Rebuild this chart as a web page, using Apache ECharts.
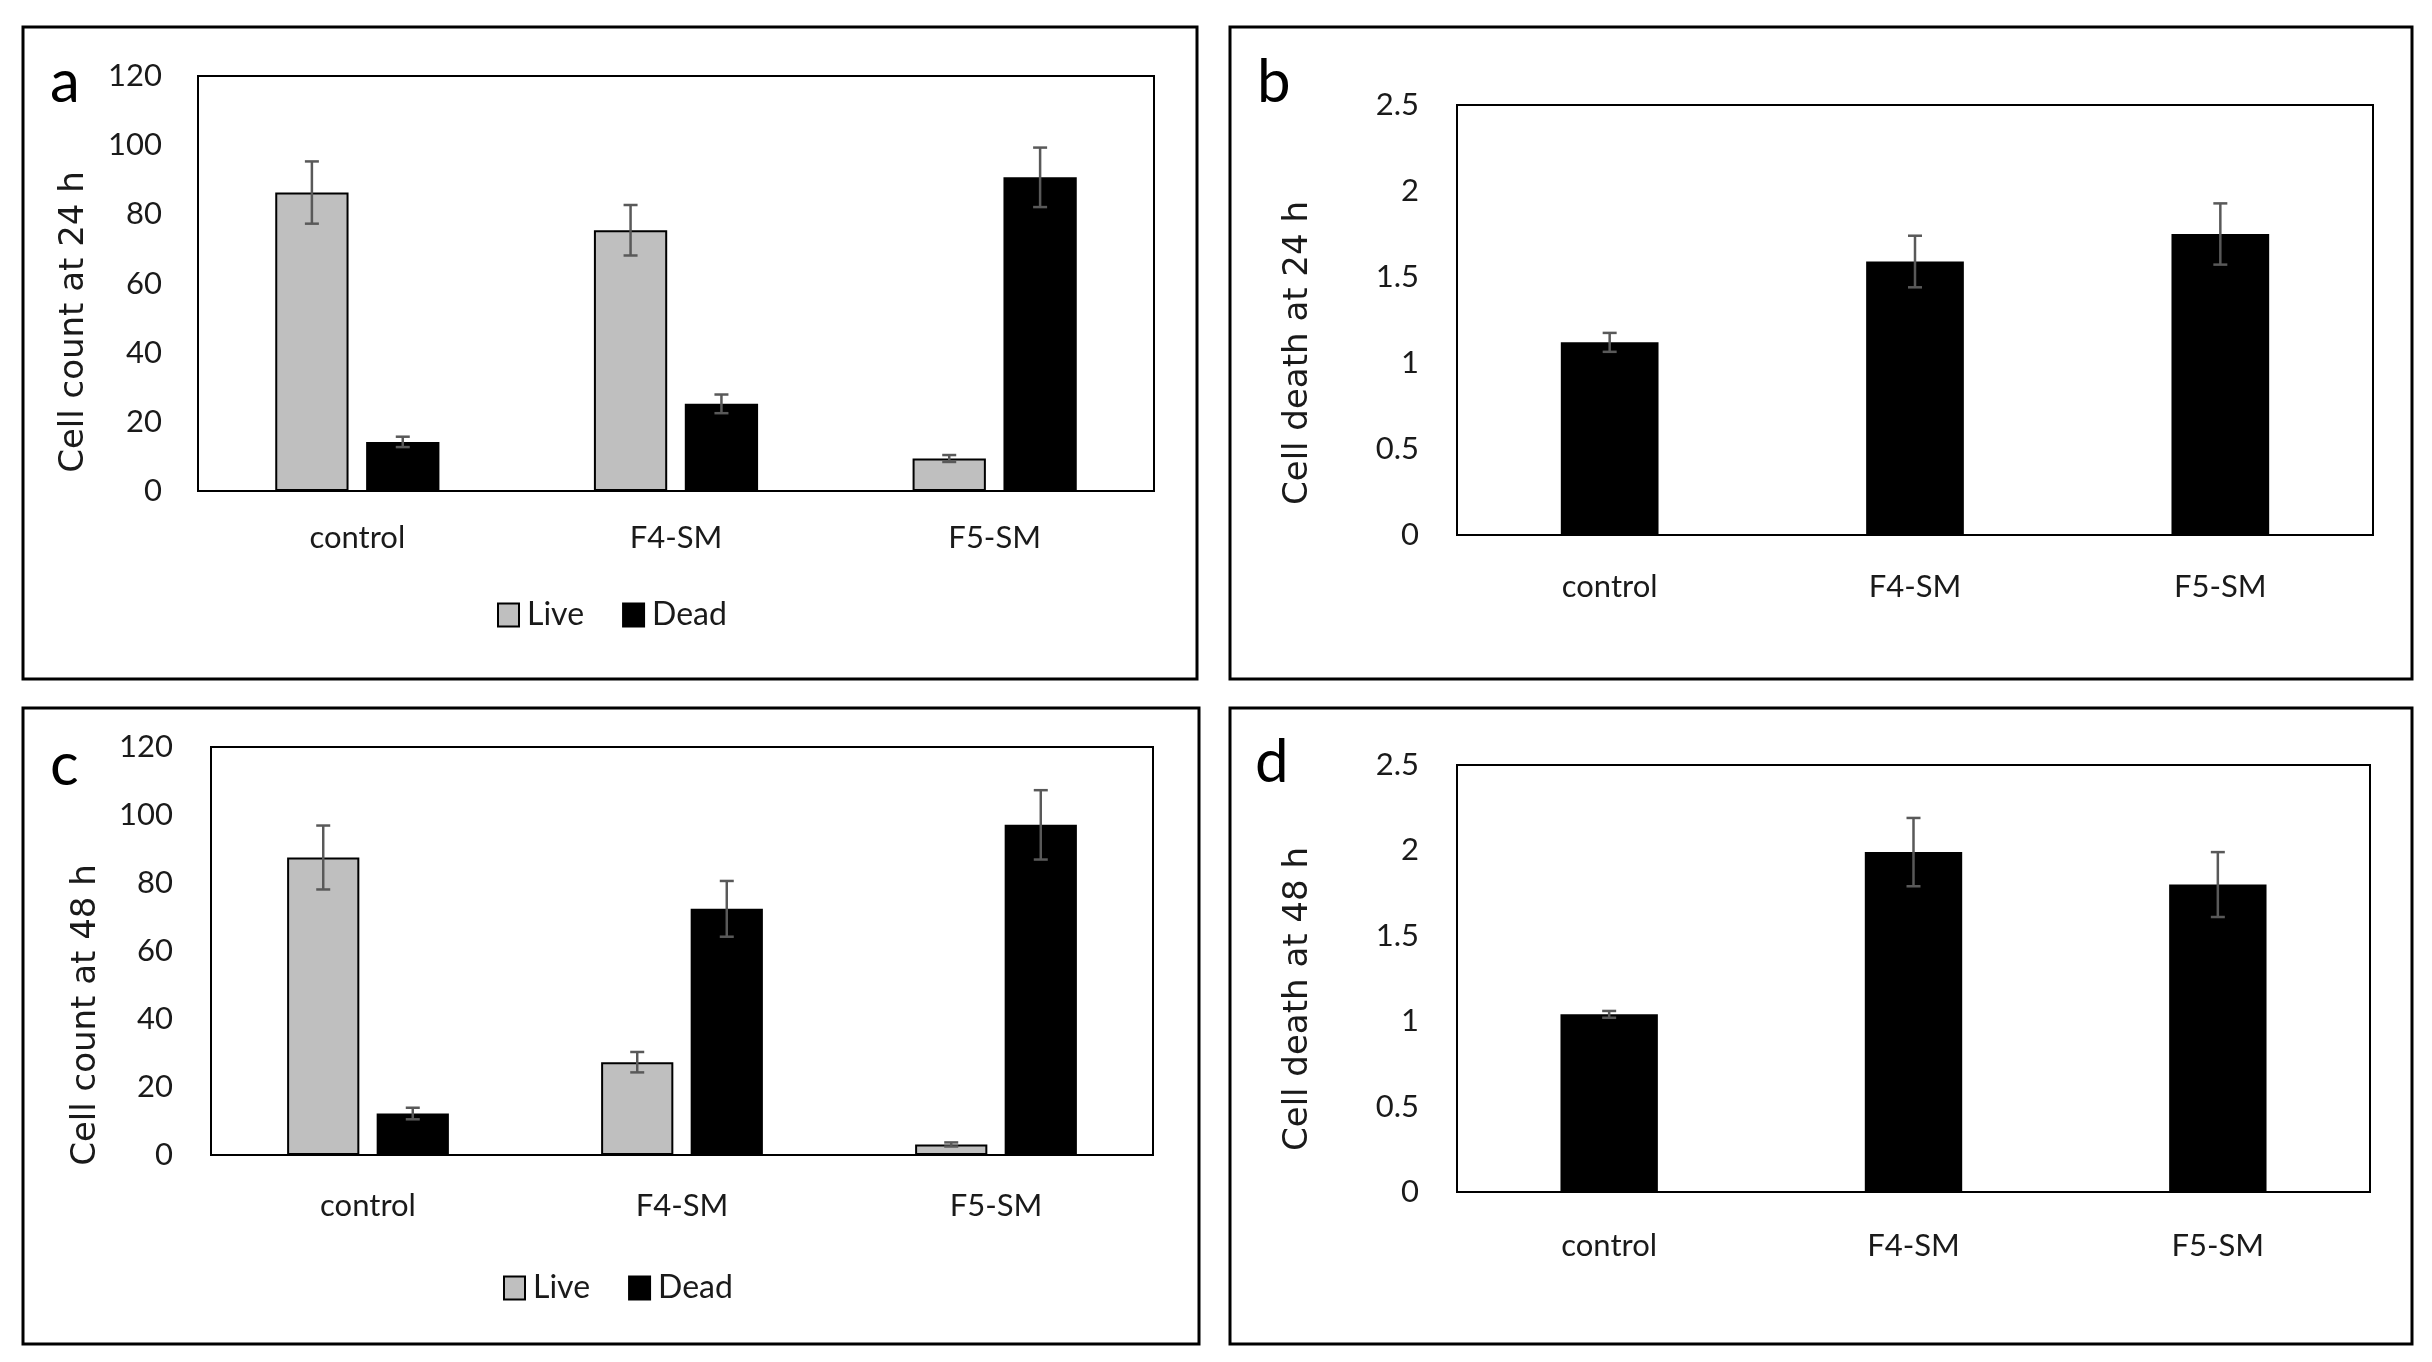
<!DOCTYPE html>
<html>
<head>
<meta charset="utf-8">
<script src="https://cdn.jsdelivr.net/npm/echarts@6/dist/echarts.min.js"></script>
<style>
html,body{margin:0;padding:0;background:#fff;}
#main{width:2432px;height:1362px;}
</style>
</head>
<body>
<div id="main"></div>
<script>
// ---- data ----
const categories = ['control', 'F4-SM', 'F5-SM'];
const countTicks = [0, 20, 40, 60, 80, 100, 120];
const deathTicks = [0, 0.5, 1, 1.5, 2, 2.5];

// panel a: cell count at 24 h
const live24 = [86.3, 75.4, 9.4];
const live24Err = [9.0, 7.3, 1.0];
const dead24 = [14.2, 25.2, 90.7];
const dead24Err = [1.5, 2.7, 8.6];

// panel b: cell death at 24 h
const death24 = [1.12, 1.59, 1.75];
const death24Err = [0.055, 0.15, 0.178];

// panel c: cell count at 48 h
const live48 = [87.5, 27.3, 3.1];
const live48Err = [9.4, 3.0, 0.6];
const dead48 = [12.2, 72.4, 97.1];
const dead48Err = [1.7, 8.2, 10.2];

// panel d: cell death at 48 h
const death48 = [1.04, 1.99, 1.80];
const death48Err = [0.02, 0.2, 0.19];

// ---- styles ----
const TXT = '#1a1a1a';
const LABEL_FONT = 'Lato, "Liberation Sans", sans-serif';
const TITLE_FONT = '"DejaVu Sans", sans-serif';
const ERR_COLOR = '#595959';
const GRAY = '#bfbfbf';

const chart = echarts.init(document.getElementById('main'), null, {renderer: 'canvas'});

const grids = [
  {left: 198, top: 76, width: 956, height: 415},
  {left: 1457, top: 105, width: 916, height: 430},
  {left: 211, top: 747, width: 942, height: 408},
  {left: 1457, top: 765, width: 913, height: 427}
];

function xAxis(gi, margin) {
  return {
    type: 'category', gridIndex: gi, data: categories,
    axisTick: {show: false},
    axisLine: {show: true, lineStyle: {color: '#000', width: 2}},
    axisLabel: {color: TXT, fontFamily: LABEL_FONT, fontSize: 31, margin: margin}
  };
}
function yAxis(gi, ticks, margin) {
  return {
    type: 'value', gridIndex: gi,
    min: ticks[0], max: ticks[ticks.length - 1], interval: ticks[1] - ticks[0],
    axisLine: {show: false}, axisTick: {show: false}, splitLine: {show: false},
    axisLabel: {color: TXT, fontFamily: LABEL_FONT, fontSize: 31, margin: margin}
  };
}

function errRender(barPct, gapPct, sign) {
  return function (params, api) {
    const xi = api.value(0), v = api.value(1), e = api.value(2);
    const band = api.size([1, 0])[0];
    const bw = band * barPct;
    const off = sign * (bw + bw * gapPct) / 2;
    const hi = api.coord([xi, v + e]);
    const lo = api.coord([xi, v - e]);
    const x = hi[0] + off;
    const cap = 7;
    const st = {stroke: ERR_COLOR, lineWidth: 2.5};
    return {
      type: 'group',
      children: [
        {type: 'line', shape: {x1: x, y1: hi[1], x2: x, y2: lo[1]}, style: st},
        {type: 'line', shape: {x1: x - cap, y1: hi[1], x2: x + cap, y2: hi[1]}, style: st},
        {type: 'line', shape: {x1: x - cap, y1: lo[1], x2: x + cap, y2: lo[1]}, style: st}
      ]
    };
  };
}
function errData(vals, errs) {
  return vals.map((v, i) => [i, v, errs[i]]);
}
function errSeries(gi, vals, errs, barPct, gapPct, sign) {
  return {
    type: 'custom', xAxisIndex: gi, yAxisIndex: gi, z: 5,
    renderItem: errRender(barPct, gapPct, sign),
    data: errData(vals, errs), silent: true
  };
}

const PAIR_W = 0.23, PAIR_GAP = 0.24, SINGLE_W = 0.32;

function liveBar(gi, vals) {
  return {
    name: 'Live', type: 'bar', xAxisIndex: gi, yAxisIndex: gi,
    barWidth: (PAIR_W * 100) + '%', barGap: (PAIR_GAP * 100) + '%',
    itemStyle: {color: GRAY, borderColor: '#000', borderWidth: 2},
    data: vals
  };
}
function deadBar(gi, vals) {
  return {
    name: 'Dead', type: 'bar', xAxisIndex: gi, yAxisIndex: gi,
    barWidth: (PAIR_W * 100) + '%', barGap: (PAIR_GAP * 100) + '%',
    itemStyle: {color: '#000', borderColor: '#000', borderWidth: 2},
    data: vals
  };
}
function deathBar(gi, name, vals) {
  return {
    name: name, type: 'bar', xAxisIndex: gi, yAxisIndex: gi,
    barWidth: (SINGLE_W * 100) + '%',
    itemStyle: {color: '#000'},
    data: vals
  };
}

function box(x, y, w, h) {
  return {type: 'rect', shape: {x: x, y: y, width: w, height: h},
    style: {fill: 'none', stroke: '#000', lineWidth: 3}, z: 0};
}
function vtitle(x, y, text) {
  return {type: 'text', x: x, y: y, rotation: Math.PI / 2,
    style: {text: text, fill: TXT, font: '34px ' + TITLE_FONT, align: 'center', verticalAlign: 'middle'}, z: 10};
}
// letters: y given as baseline; Lato 60px em-top is ~49px above baseline
function letter(x, baseline, t) {
  return {type: 'text', x: x, y: baseline - 49,
    style: {text: t, fill: '#000', font: '60px ' + LABEL_FONT, align: 'left', verticalAlign: 'top'}, z: 10};
}

const legendCommon = {
  orient: 'horizontal', itemWidth: 21, itemHeight: 23, itemGap: 38, icon: 'rect', padding: 0,
  textStyle: {color: TXT, fontFamily: LABEL_FONT, fontSize: 32, padding: [0, 0, 0, 3]},
  data: ['Live', 'Dead'], selectedMode: false
};

const option = {
  backgroundColor: '#fff',
  animation: false,
  grid: grids.map(g => Object.assign({show: true, borderColor: '#000', borderWidth: 2, backgroundColor: 'transparent', containLabel: false}, g)),
  xAxis: [xAxis(0, 31), xAxis(1, 36), xAxis(2, 35), xAxis(3, 38)],
  yAxis: [yAxis(0, countTicks, 36), yAxis(1, deathTicks, 38), yAxis(2, countTicks, 38), yAxis(3, deathTicks, 38)],
  legend: [
    Object.assign({left: 497, top: 599}, legendCommon),
    Object.assign({left: 503, top: 1272}, legendCommon)
  ],
  series: [
    liveBar(0, live24), deadBar(0, dead24),
    errSeries(0, live24, live24Err, PAIR_W, PAIR_GAP, -1),
    errSeries(0, dead24, dead24Err, PAIR_W, PAIR_GAP, 1),
    deathBar(1, 'Cell death at 24 h', death24),
    errSeries(1, death24, death24Err, SINGLE_W, 0, 0),
    liveBar(2, live48), deadBar(2, dead48),
    errSeries(2, live48, live48Err, PAIR_W, PAIR_GAP, -1),
    errSeries(2, dead48, dead48Err, PAIR_W, PAIR_GAP, 1),
    deathBar(3, 'Cell death at 48 h', death48),
    errSeries(3, death48, death48Err, SINGLE_W, 0, 0)
  ],
  graphic: [
    box(23, 27, 1174, 652),
    box(1230, 27, 1182, 652),
    box(23, 708, 1176, 636),
    box(1230, 708, 1182, 636),
    vtitle(74, 322, 'Cell count at 24 h'),
    vtitle(1298, 353, 'Cell death at 24 h'),
    vtitle(86, 1015, 'Cell count at 48 h'),
    vtitle(1298, 999, 'Cell death at 48 h'),
    letter(50, 102, 'a'),
    letter(1257, 102, 'b'),
    letter(50, 785, 'c'),
    letter(1255, 782, 'd')
  ]
};
chart.setOption(option);
</script>
</body>
</html>
